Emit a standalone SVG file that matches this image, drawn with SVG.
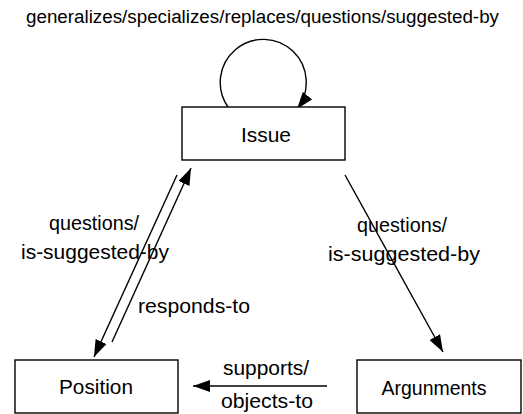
<svg xmlns="http://www.w3.org/2000/svg" width="523" height="414" viewBox="0 0 523 414">
<style>
  text { font-family: "Liberation Sans", Arial, sans-serif; font-size: 21px; fill: #000; }
  .title { font-size: 18.8px; }
  .node rect { fill: #fff; stroke: #000; stroke-width: 1.4; }
  .node text { text-anchor: middle; }
  .edge { fill: none; stroke: #000; stroke-width: 1.4; }
  .lbl { text-anchor: middle; }
</style>
<defs>
  <marker id="arrow" viewBox="0 0 17 12" refX="17" refY="6" markerWidth="17" markerHeight="12" markerUnits="userSpaceOnUse" orient="auto">
    <path d="M0,0 L17,6 L0,12 Z" fill="#000"/>
  </marker>
</defs>
<rect width="523" height="414" fill="#fff"/>
<g id="connectors">
  <path id="e-loop" class="edge" d="M228,107 A43,43 0 1 1 297,109" marker-end="url(#arrow)"/>
  <line id="e-issue-position" class="edge" x1="177" y1="175" x2="94" y2="357" marker-end="url(#arrow)"/>
  <line id="e-position-issue" class="edge" x1="112" y1="342" x2="191" y2="168" marker-end="url(#arrow)"/>
  <line id="e-issue-arguments" class="edge" x1="345" y1="175" x2="443" y2="352" marker-end="url(#arrow)"/>
  <line id="e-arguments-position" class="edge" x1="327" y1="386" x2="193" y2="386" marker-end="url(#arrow)"/>
  <text class="lbl title" x="262.5" y="23">generalizes/specializes/replaces/questions/suggested-by</text>
  <text class="lbl" x="94" y="230" textLength="90" lengthAdjust="spacingAndGlyphs">questions/</text>
  <text class="lbl" x="95" y="259" textLength="148" lengthAdjust="spacingAndGlyphs">is-suggested-by</text>
  <text class="lbl" x="194" y="313" textLength="112" lengthAdjust="spacingAndGlyphs">responds-to</text>
  <text class="lbl" x="402" y="232" textLength="90" lengthAdjust="spacingAndGlyphs">questions/</text>
  <text class="lbl" x="404" y="261" textLength="152" lengthAdjust="spacingAndGlyphs">is-suggested-by</text>
  <text class="lbl" x="266" y="375" textLength="86" lengthAdjust="spacingAndGlyphs">supports/</text>
  <text class="lbl" x="267" y="408" textLength="92" lengthAdjust="spacingAndGlyphs">objects-to</text>
</g>
<g id="node-issue" class="node">
  <rect x="182" y="107" width="163" height="53"/>
  <text x="266" y="142" textLength="50" lengthAdjust="spacingAndGlyphs">Issue</text>
</g>
<g id="node-position" class="node">
  <rect x="15" y="360" width="163" height="53"/>
  <text x="96" y="394" textLength="74" lengthAdjust="spacingAndGlyphs">Position</text>
</g>
<g id="node-arguments" class="node">
  <rect x="357" y="360" width="164" height="53"/>
  <text x="434" y="395" textLength="105" lengthAdjust="spacingAndGlyphs">Argunments</text>
</g>
</svg>
